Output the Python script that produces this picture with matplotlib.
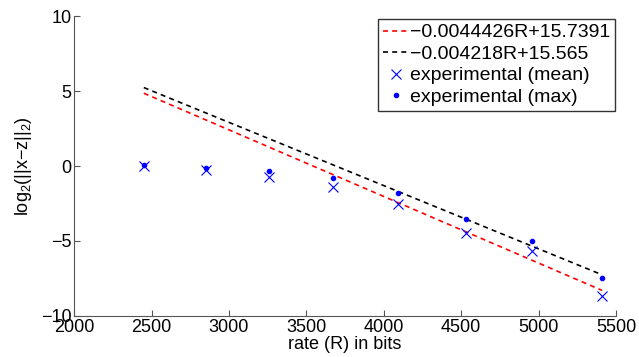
import numpy as np
import matplotlib
matplotlib.use("Agg")
import matplotlib.pyplot as plt

plt.rcParams["font.family"] = ["Liberation Sans", "DejaVu Sans"]
plt.rcParams["mathtext.fontset"] = "custom"
plt.rcParams["mathtext.rm"] = "Liberation Sans"
plt.rcParams["mathtext.it"] = "Liberation Sans:italic"

# rate in bits and measured log2 errors
rate = [2450, 2850, 3260, 3670, 4090, 4530, 4960, 5410]
err_mean = [-0.02, -0.27, -0.70, -1.40, -2.55, -4.45, -5.65, -8.67]
err_max = [0.05, -0.15, -0.30, -0.80, -1.78, -3.53, -4.98, -7.49]

# linear fits: slope, intercept
fit_mean = (-0.0044426, 15.7391)
fit_max = (-0.004218, 15.565)

fig = plt.figure(figsize=(6.39, 3.57), dpi=100)
ax = fig.add_axes([0.116, 0.115, 0.848, 0.84])

R = np.array(rate, dtype=float)
ax.plot(R, fit_mean[0] * R + fit_mean[1], "--", color="red", lw=1.2,
        dashes=(3, 2.5), label="\u22120.0044426R+15.7391")
ax.plot(R, fit_max[0] * R + fit_max[1], "--", color="black", lw=1.2,
        dashes=(3, 2.5), label="\u22120.004218R+15.565")
ax.plot(rate, err_mean, "x", color="blue", ms=6.5, mew=0.8, ls="none",
        label="experimental (mean)")
ax.plot(rate, err_max, ".", color="blue", ms=6, ls="none",
        label="experimental (max)")

ax.set_xlim(2000, 5500)
ax.set_ylim(-10, 10)
ax.set_xticks(np.arange(2000, 5501, 500))
ax.set_yticks([-10, -5, 0, 5, 10])
ax.set_xlabel("rate (R) in bits", fontsize=13, labelpad=0)
ax.set_ylabel("log$_2$(||x\u2212z||$_2$)", fontsize=13, labelpad=5)
ax.tick_params(direction="in", labelsize=13, length=4, color="#555555", pad=2)
for s in ["top", "right"]:
    ax.spines[s].set_visible(False)
for s in ["left", "bottom"]:
    ax.spines[s].set_color("#555555")

# legend box: x 380..615 px, y 19..112 px
leg = ax.legend(loc="upper right", bbox_to_anchor=(615 / 639, 1 - 19 / 357),
                bbox_transform=fig.transFigure, fontsize=14, frameon=True,
                fancybox=False, edgecolor="black", handlelength=1.35,
                handletextpad=0.05, borderpad=0.25, labelspacing=0.2,
                borderaxespad=0)
leg.get_frame().set_linewidth(1.0)

fig.savefig("out.png", dpi=100)
plt.close(fig)
